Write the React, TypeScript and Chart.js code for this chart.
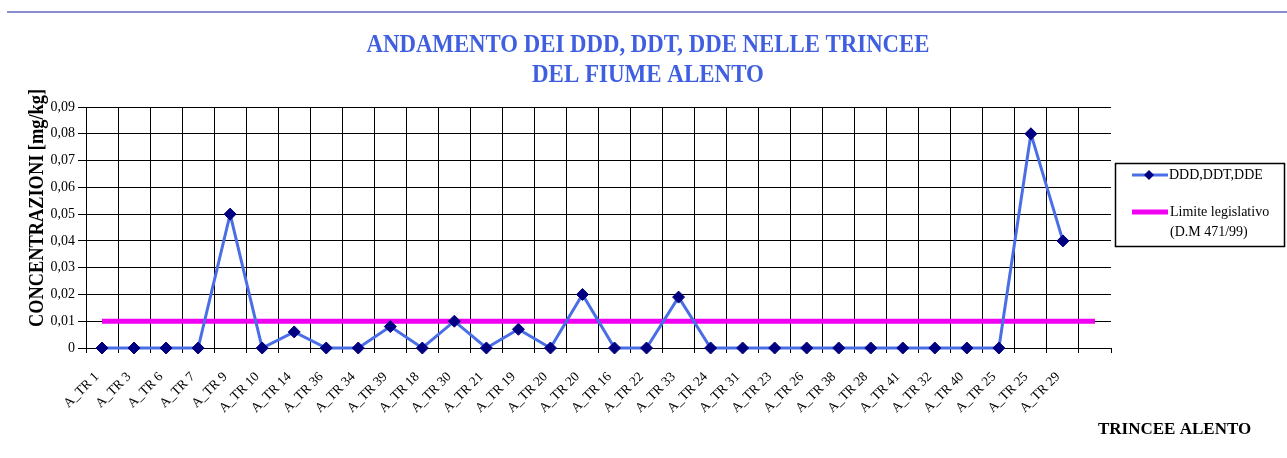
import React, { useEffect, useRef } from "react";
import { Chart, registerables } from "chart.js";

Chart.register(...registerables);

const titleLines = ["ANDAMENTO DEI DDD, DDT, DDE NELLE TRINCEE", "DEL FIUME ALENTO"];
const yAxisTitle = "CONCENTRAZIONI [mg/kg]";
const xAxisTitle = "TRINCEE ALENTO";
const seriesName = "DDD,DDT,DDE";
const limitNameLines = ["Limite legislativo", "(D.M 471/99)"];

const categories = [
  "A_TR 1", "A_TR 3", "A_TR 6", "A_TR 7", "A_TR 9", "A_TR 10", "A_TR 14", "A_TR 36",
  "A_TR 34", "A_TR 39", "A_TR 18", "A_TR 30", "A_TR 21", "A_TR 19", "A_TR 20", "A_TR 20",
  "A_TR 16", "A_TR 22", "A_TR 33", "A_TR 24", "A_TR 31", "A_TR 23", "A_TR 26", "A_TR 38",
  "A_TR 28", "A_TR 41", "A_TR 32", "A_TR 40", "A_TR 25", "A_TR 25", "A_TR 29", "",
];

const dddValues = [
  0, 0, 0, 0, 0.05, 0, 0.006, 0,
  0, 0.008, 0, 0.01, 0, 0.007, 0, 0.02,
  0, 0, 0.019, 0, 0, 0, 0, 0,
  0, 0, 0, 0, 0, 0.08, 0.04,
];

const limitValues = [
  0.01, 0.01, 0.01, 0.01, 0.01, 0.01, 0.01, 0.01,
  0.01, 0.01, 0.01, 0.01, 0.01, 0.01, 0.01, 0.01,
  0.01, 0.01, 0.01, 0.01, 0.01, 0.01, 0.01, 0.01,
  0.01, 0.01, 0.01, 0.01, 0.01, 0.01, 0.01, 0.01,
];

const yMin = 0;
const yMax = 0.09;
const yStep = 0.01;

const SERIF = "'Liberation Serif', 'Times New Roman', serif";
const LINE_BLUE = "#4a6ee6";
const MARKER_NAVY = "#000080";
const MAGENTA = "#f000f0";
const TITLE_BLUE = "#3f5fe0";

const decorPlugin = {
  id: "decor",
  afterDraw(chart: any) {
    const ctx = chart.ctx as CanvasRenderingContext2D;
    const area = chart.chartArea;
    ctx.save();

    // top rule
    ctx.strokeStyle = "#8c8cd0";
    ctx.lineWidth = 2;
    ctx.beginPath();
    ctx.moveTo(7, 12);
    ctx.lineTo(1287, 12);
    ctx.stroke();

    // title
    ctx.fillStyle = TITLE_BLUE;
    ctx.font = `bold 25px ${SERIF}`;
    ctx.textAlign = "center";
    ctx.textBaseline = "alphabetic";
    ctx.fillText(titleLines[0], 648, 52, 563);
    ctx.fillText(titleLines[1], 648, 82, 232);

    // y axis title
    ctx.save();
    ctx.translate(43, 208);
    ctx.rotate(-Math.PI / 2);
    ctx.fillStyle = "#000";
    ctx.font = `bold 20px ${SERIF}`;
    ctx.textAlign = "center";
    ctx.textBaseline = "alphabetic";
    ctx.fillText(yAxisTitle, 0, 0, 238);
    ctx.restore();

    // small tick at right end of x axis
    ctx.strokeStyle = "#000";
    ctx.lineWidth = 1;
    ctx.beginPath();
    ctx.moveTo(Math.round(area.right) + 0.5, area.bottom);
    ctx.lineTo(Math.round(area.right) + 0.5, area.bottom + 5);
    ctx.stroke();

    // x axis title
    ctx.fillStyle = "#000";
    ctx.font = `bold 17px ${SERIF}`;
    ctx.textAlign = "left";
    ctx.textBaseline = "middle";
    ctx.fillText(xAxisTitle, 1098, 430, 160);

    // legend box
    ctx.strokeStyle = "#000";
    ctx.lineWidth = 1.5;
    ctx.strokeRect(1115.5, 163.5, 169, 83);

    // entry 1
    ctx.strokeStyle = LINE_BLUE;
    ctx.lineWidth = 3;
    ctx.beginPath();
    ctx.moveTo(1132, 175);
    ctx.lineTo(1168, 175);
    ctx.stroke();
    ctx.fillStyle = MARKER_NAVY;
    ctx.beginPath();
    ctx.moveTo(1149, 170);
    ctx.lineTo(1154, 175);
    ctx.lineTo(1149, 180);
    ctx.lineTo(1144, 175);
    ctx.closePath();
    ctx.fill();
    ctx.fillStyle = "#000";
    ctx.font = `14px ${SERIF}`;
    ctx.textAlign = "left";
    ctx.textBaseline = "middle";
    ctx.fillText(seriesName, 1169, 175);

    // entry 2
    ctx.strokeStyle = MAGENTA;
    ctx.lineWidth = 5;
    ctx.beginPath();
    ctx.moveTo(1132, 212);
    ctx.lineTo(1168, 212);
    ctx.stroke();
    ctx.fillStyle = "#000";
    ctx.fillText(limitNameLines[0], 1170, 212);
    ctx.fillText(limitNameLines[1], 1170, 232);

    ctx.restore();
  },
};

export default function App() {
  const canvasRef = useRef<HTMLCanvasElement | null>(null);

  useEffect(() => {
    document.body.style.margin = "0";
    const canvas = canvasRef.current;
    if (!canvas) return;
    const chart = new Chart(canvas, {
      type: "line",
      data: {
        labels: categories,
        datasets: [
          {
            label: seriesName,
            data: dddValues,
            borderColor: LINE_BLUE,
            backgroundColor: MARKER_NAVY,
            borderWidth: 3,
            pointStyle: "rectRot",
            pointRadius: 6,
            pointBackgroundColor: MARKER_NAVY,
            pointBorderColor: MARKER_NAVY,
            pointBorderWidth: 1,
            tension: 0,
            order: 1,
            clip: false,
          },
          {
            label: limitNameLines.join(" "),
            data: limitValues,
            borderColor: MAGENTA,
            backgroundColor: MAGENTA,
            borderWidth: 5,
            pointRadius: 0,
            tension: 0,
            order: 2,
            clip: false,
          },
        ],
      },
      options: {
        animation: false,
        responsive: false,
        maintainAspectRatio: false,
        layout: { padding: { left: 0, top: 107, right: 176, bottom: 0 } },
        plugins: {
          legend: { display: false },
          title: { display: false },
          tooltip: { enabled: false },
        },
        scales: {
          x: {
            offset: true,
            grid: {
              offset: true,
              color: (c: any) => (c.index === undefined ? "rgba(0,0,0,0)" : "#000"),
              lineWidth: 1,
              tickLength: 5,
              drawTicks: true,
            },
            border: { color: "#000", width: 1 },
            ticks: {
              autoSkip: false,
              maxRotation: 45,
              minRotation: 45,
              padding: 16,
              labelOffset: -5,
              color: "#000",
              font: { family: SERIF, size: 13.5 },
            },
            afterFit: (s: any) => {
              s.height = 110;
            },
          },
          y: {
            min: yMin,
            max: yMax,
            grid: {
              color: "#000",
              lineWidth: 1,
              tickLength: 8,
            },
            border: { color: "#000", width: 1 },
            ticks: {
              stepSize: yStep,
              padding: 3,
              color: "#000",
              font: { family: SERIF, size: 14 },
              callback: (v: any) => {
                const n = Number(v);
                if (Math.abs(n) < 1e-9) return "0";
                return n.toFixed(2).replace(".", ",");
              },
            },
            afterFit: (s: any) => {
              s.width = 86;
            },
          },
        },
      },
      plugins: [decorPlugin],
    });
    return () => chart.destroy();
  }, []);

  return (
    <div style={{ position: "relative", width: 1287, height: 458, background: "#fff" }}>
      <canvas ref={canvasRef} width={1287} height={458} style={{ display: "block", width: 1287, height: 458 }} />
    </div>
  );
}
